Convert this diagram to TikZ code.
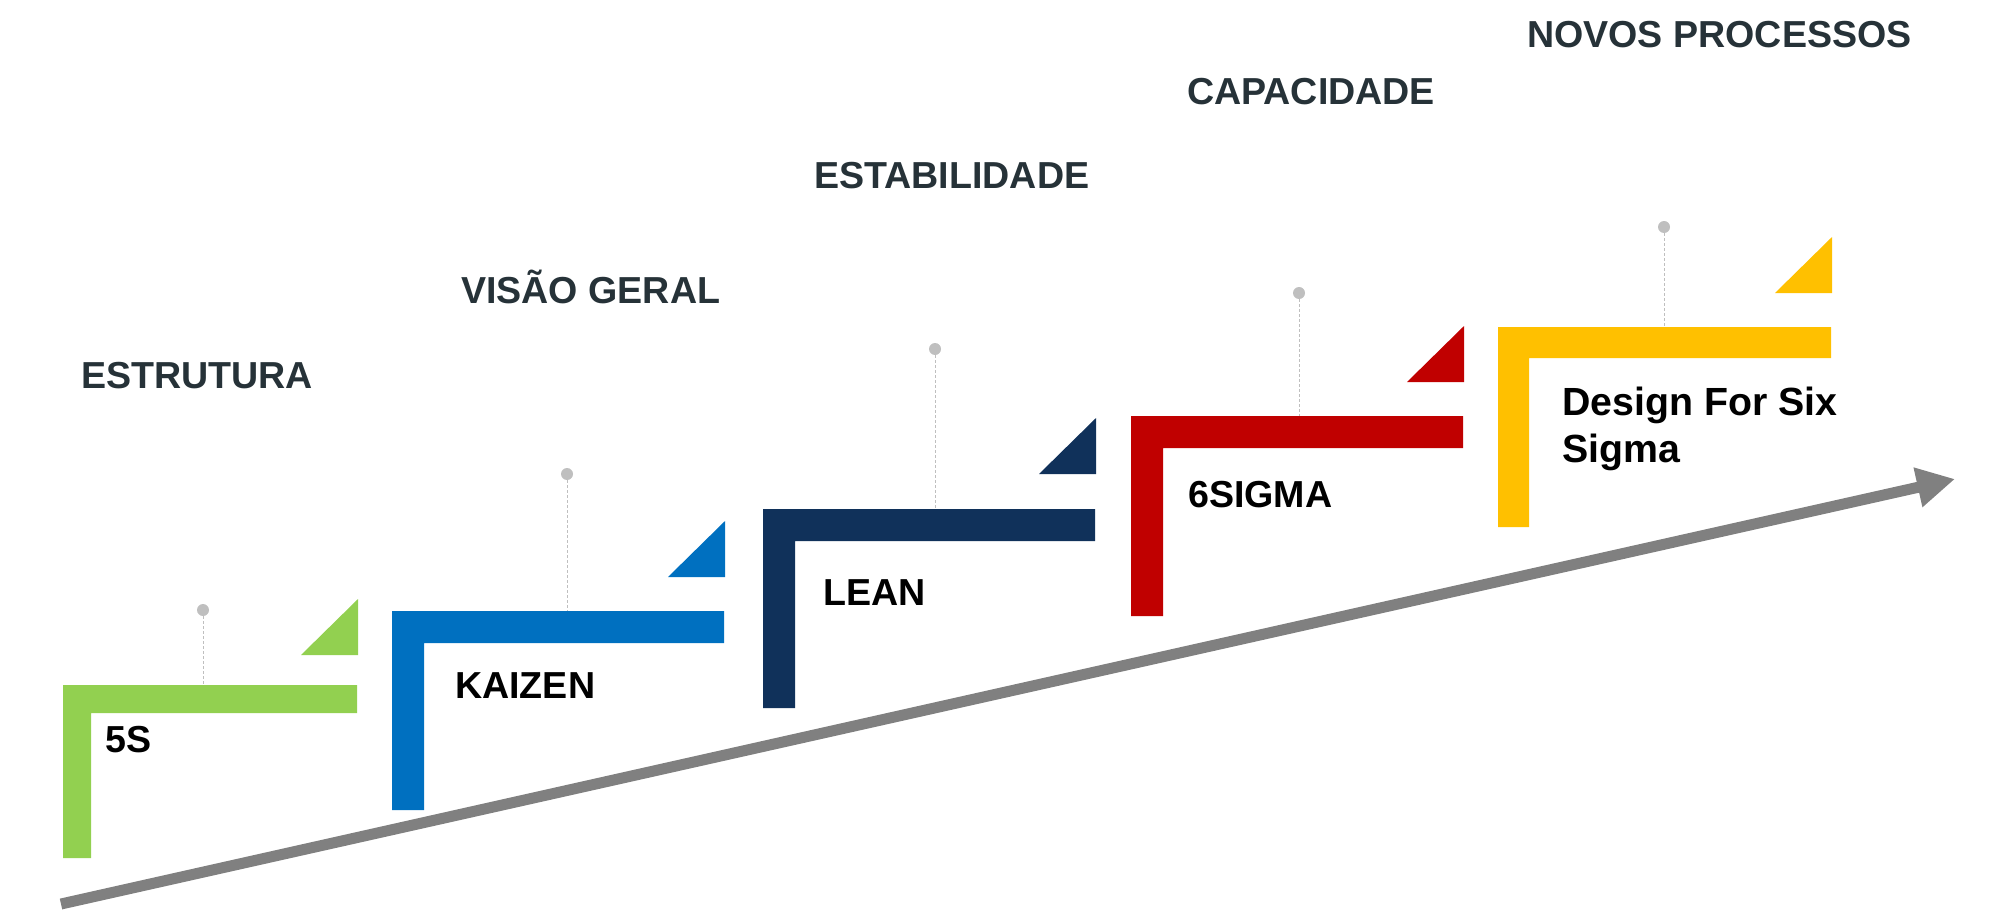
\documentclass[tikz,border=0pt]{standalone}
\usepackage{fontspec}
\setmainfont{Liberation Sans}
\usetikzlibrary{arrows.meta}
\definecolor{stepgreen}{HTML}{92D050}
\definecolor{stepblue}{HTML}{0070C0}
\definecolor{stepnavy}{HTML}{10315A}
\definecolor{stepred}{HTML}{C00000}
\definecolor{stepgold}{HTML}{FFC000}
\definecolor{trendgrey}{HTML}{808080}
\definecolor{pingrey}{HTML}{BFBFBF}
\definecolor{headgrey}{HTML}{263238}
\newcommand{\SHead}{\fontsize{37.6}{44}\selectfont\bfseries}
\newcommand{\SLab}{\fontsize{37.6}{47}\selectfont\bfseries}
\newcommand{\SLabBig}{\fontsize{39.3}{47}\selectfont\bfseries}

\begin{document}
\begin{tikzpicture}[x=1pt, y=-1pt,
  heading/.style={anchor=base west, inner sep=0pt, text=headgrey, font=\SHead},
  steplabel/.style={anchor=base west, inner sep=0pt, text=black, font=\SLab,
                    align=left},
  pin/.style={circle, fill=pingrey, minimum size=12pt, inner sep=0pt},
  pinline/.style={draw=pingrey, line width=1pt, dash pattern=on 3pt off 2pt},
  trend/.style={-{Triangle[length=38pt,width=38pt]}, draw=trendgrey,
                line width=11pt}
]
\useasboundingbox (0,0) rectangle (1996,912);

% Rising trend arrow under the stairs.
\coordinate (tstart) at (61,904);
\coordinate (tend) at (1955,479);
\draw[trend] (tstart) -- (tend);

% Steps, left to right: L-shaped stair, corner flag, pin on top.
\foreach \n/\col/\l/\t/\r/\b/\w/\tb/\dx/\dy in {
    fives/stepgreen/63/685/357/858/28/655/203/610,
    kaizen/stepblue/392/611/724/810/32/577/567/474,
    lean/stepnavy/763/509/1095/708/32/474/935/349,
    sigma/stepred/1131/416/1463/616/32/382/1299/293,
    dfss/stepgold/1498/327/1831/527/31/293/1664/227} {
  \fill[\col] (\l,\b) -- (\l,\t) -- (\r,\t) -- (\r,\t+\w)
    -- (\l+\w,\t+\w) -- (\l+\w,\b) -- cycle;
  \fill[\col] (\r-56,\tb) -- (\r+1,\tb) -- (\r+1,\tb-56) -- cycle;
  \node[pin] (pin\n) at (\dx,\dy) {};
  \coordinate (bar\n) at (\dx,\t);
  \draw[pinline] (pin\n) -- (bar\n);
}

% Step labels (base of a two-line label is its last line).
\node[steplabel] (fives) at (105,752) {5S};
\node[steplabel] (kaizen) at (455,698) {KAIZEN};
\node[steplabel] (lean) at (823,605) {LEAN};
\node[steplabel] (sigma) at (1188,507) {6SIGMA};
\node[steplabel, font=\SLabBig] (dfss) at (1562,462) {Design For Six\\Sigma};

% Headings above each step.
\node[heading] (hstrut) at (81,388) {ESTRUTURA};
\node[heading] (hvisao) at (461,303) {VISÃO GERAL};
\node[heading] (hstab) at (814,189) {ESTABILIDADE};
\node[heading] (hcap) at (1187,105) {CAPACIDADE};
\node[heading] (hnovos) at (1527,48) {NOVOS PROCESSOS};
\end{tikzpicture}
\end{document}
